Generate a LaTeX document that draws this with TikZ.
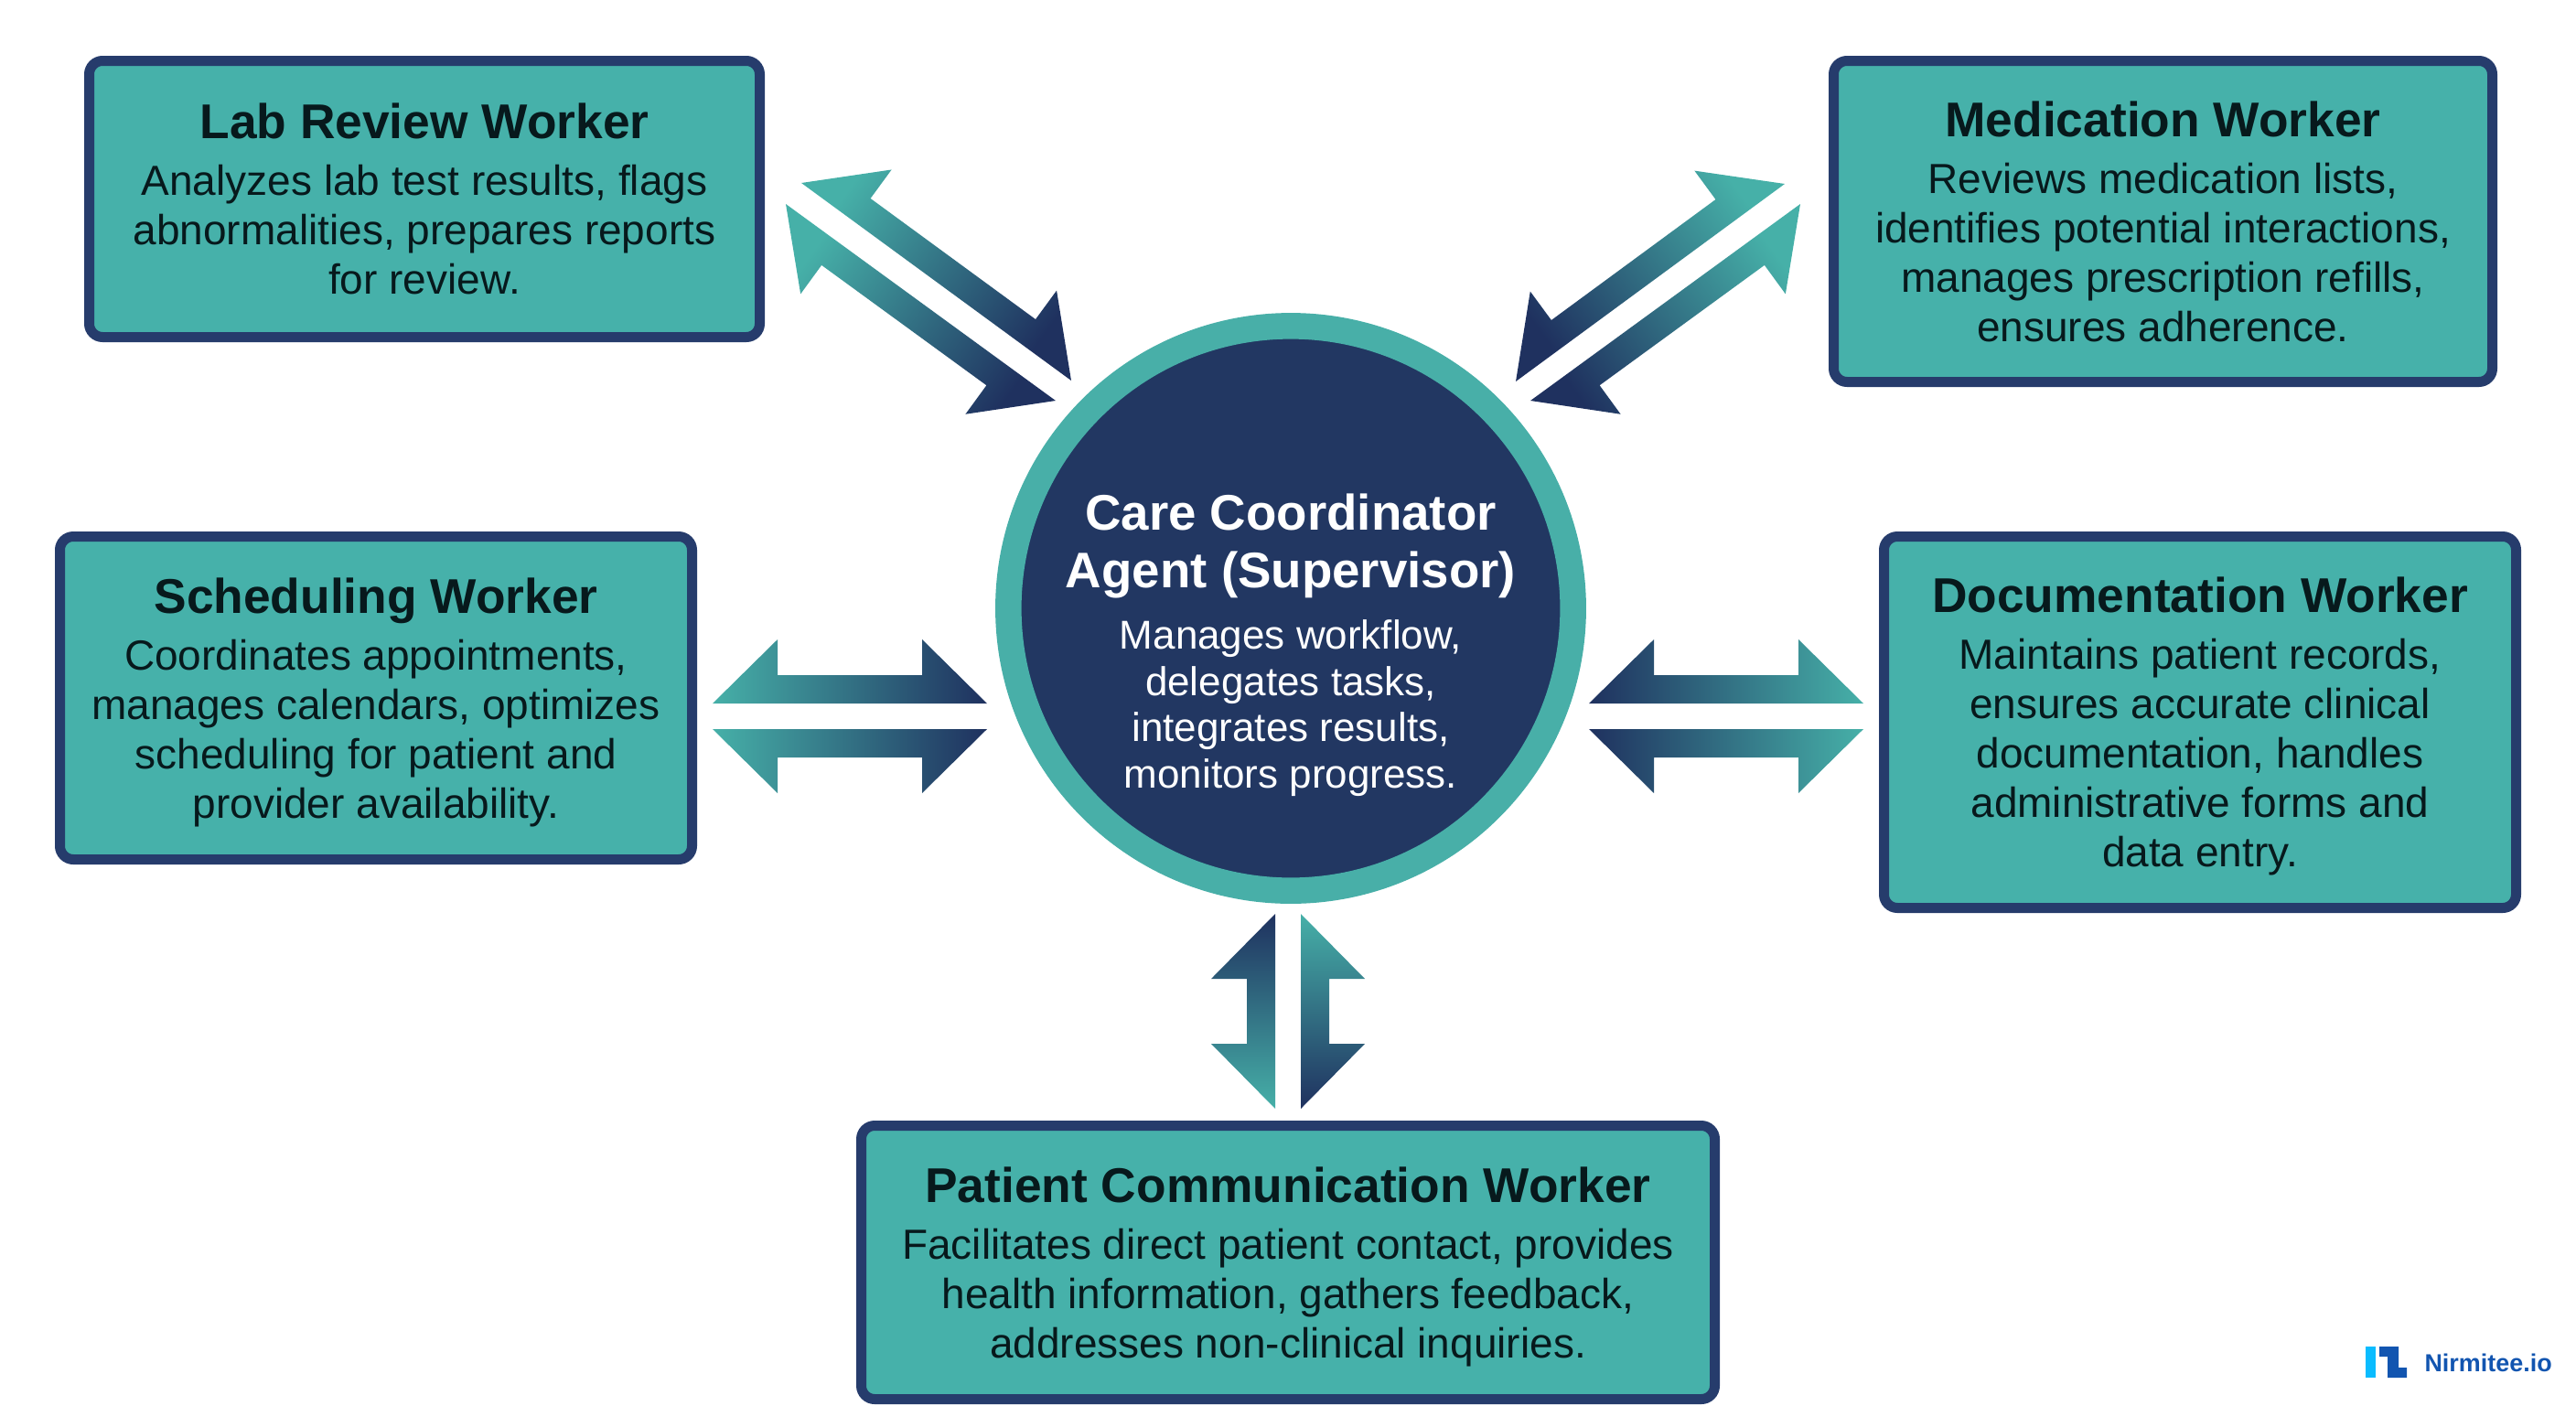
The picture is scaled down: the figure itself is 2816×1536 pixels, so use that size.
\documentclass[tikz,border=0pt]{standalone}
\usepackage{fontspec}
\setmainfont{Liberation Sans}
\usetikzlibrary{calc}

\definecolor{boxteal}{HTML}{46B1AA}
\definecolor{boxnavy}{HTML}{263C6C}
\definecolor{ringteal}{HTML}{48AFA8}
\definecolor{hubnavy}{HTML}{223762}
\definecolor{arrowteal}{HTML}{46B0A8}
\definecolor{arrownavy}{HTML}{1F315F}
\definecolor{inkdark}{HTML}{07191C}
\definecolor{logoblue}{HTML}{1255B0}
\definecolor{logosky}{HTML}{0ABCFF}

\tikzset{every picture/.style={line width=0.75pt}}
\tikzset{
  workerbox/.style={draw=boxnavy,fill=boxteal,line width=8.25pt,rounded corners=11pt,
    inner sep=0pt,align=center,text=inkdark,text depth=0pt,
    font=\fontsize{34.5}{40.5}\selectfont},
  hubdisc/.style={circle,draw=ringteal,fill=hubnavy,line width=21.4pt,inner sep=0pt,
    minimum size=463pt},
  hubtext/.style={inner sep=0pt,align=center,text=white,text depth=0pt,
    font=\fontsize{33}{37.9}\selectfont},
  logotext/.style={inner sep=0pt,anchor=west,text=logoblue,
    font=\fontsize{20.2}{24}\selectfont\bfseries}
}

\newcommand{\workertitle}[1]{{\fontsize{40}{40.5}\selectfont\bfseries #1}\\[6pt]}
\newcommand{\halfarrow}[3]{%
  \pgfmathanglebetweenpoints{\pgfpointanchor{#1}{center}}{\pgfpointanchor{#2}{center}}%
  \pgfmathsetmacro{\arrowtilt}{-\pgfmathresult-90}%
  \shade [top color=\arrowto,bottom color=\arrowfrom,shading angle=\arrowtilt]
    (#1) -- ($(#1)!53.25pt!(#2)!52.5pt!#3:(#2)$) -- ($(#1)!53.25pt!(#2)!23.25pt!#3:(#2)$)
    -- ($(#2)!53.25pt!(#1)!23.25pt!#3:(#2)$) -- ($(#2)!53.25pt!(#1)!52.5pt!#3:(#2)$)
    -- (#2) -- cycle ;}
\def\arrowfrom{arrowteal}
\def\arrowto{arrownavy}

\begin{document}
\begin{tikzpicture}[x=0.75pt,y=0.75pt,yscale=-1,xscale=1]
\useasboundingbox (0,0) rectangle (2816,1536);

%Shape: Rectangle [lab review]
\node [workerbox,minimum width=549.75pt,minimum height=226.5pt] (labworker) at (464,217.5) {\workertitle{Lab Review Worker}Analyzes lab test results, flags\\abnormalities, prepares reports\\for review.};
%Shape: Rectangle [medication]
\node [workerbox,minimum width=540pt,minimum height=263.25pt] (medworker) at (2364.5,242) {\workertitle{Medication Worker}Reviews medication lists,\\identifies potential interactions,\\manages prescription refills,\\ensures adherence.};
%Shape: Rectangle [scheduling]
\node [workerbox,minimum width=518.25pt,minimum height=264.75pt] (schedworker) at (411,763) {\workertitle{Scheduling Worker}Coordinates appointments,\\manages calendars, optimizes\\scheduling for patient and\\provider availability.};
%Shape: Rectangle [documentation]
\node [workerbox,minimum width=518.25pt,minimum height=304.5pt] (docworker) at (2405,789.5) {\workertitle{Documentation Worker}Maintains patient records,\\ensures accurate clinical\\documentation, handles\\administrative forms and\\data entry.};
%Shape: Rectangle [patient communication]
\node [workerbox,minimum width=699.75pt,minimum height=224.25pt] (patworker) at (1408,1380) {\workertitle{Patient Communication Worker}Facilitates direct patient contact, provides\\health information, gathers feedback,\\addresses non-clinical inquiries.};

%Shape: Circle [supervisor]
\node [hubdisc] (carehub) at (1411,665) {};
% Text Node
\node [hubtext] (caretext) at (1411,700.5) {{\fontsize{41}{37.9}\selectfont\bfseries Care Coordinator}\\[9.7pt]{\fontsize{41}{37.9}\selectfont\bfseries Agent (Supervisor)}\\[12.1pt]Manages workflow,\\delegates tasks,\\integrates results,\\monitors progress.};

%Arrow ends, teal end first
\coordinate (labupT) at (876,200);
\coordinate (labupN) at (1171,416);
\coordinate (lablowT) at (859,223);
\coordinate (lablowN) at (1154,438);
\coordinate (medupT) at (1951,201);
\coordinate (medupN) at (1657,417);
\coordinate (medlowT) at (1968,223);
\coordinate (medlowN) at (1673,438);
\coordinate (schedupT) at (779,769);
\coordinate (schedupN) at (1079,769);
\coordinate (schedlowT) at (779,797);
\coordinate (schedlowN) at (1079,797);
\coordinate (docupT) at (2037,769);
\coordinate (docupN) at (1737,769);
\coordinate (doclowT) at (2037,797);
\coordinate (doclowN) at (1737,797);
\coordinate (patleftT) at (1394,1212);
\coordinate (patleftN) at (1394,999);
\coordinate (patrightT) at (1422,999);
\coordinate (patrightN) at (1422,1212);

%Straight Lines [block arrows]
\halfarrow{labupT}{labupN}{-90}
\halfarrow{lablowT}{lablowN}{90}
\halfarrow{medupT}{medupN}{90}
\halfarrow{medlowT}{medlowN}{-90}
\halfarrow{schedupT}{schedupN}{-90}
\halfarrow{schedlowT}{schedlowN}{90}
\halfarrow{docupT}{docupN}{90}
\halfarrow{doclowT}{doclowN}{-90}
\halfarrow{patleftT}{patleftN}{-90}
\halfarrow{patrightT}{patrightN}{-90}

%Shape: Logo mark
\fill [logosky] (2586,1472) -- (2597,1472) -- (2597,1506) -- (2586,1506) -- cycle ;
\fill [logoblue] (2601,1472) -- (2622,1472) -- (2622,1495) -- (2631,1495) -- (2631,1506) -- (2610,1506) -- (2610,1483) -- (2601,1483) -- cycle ;
% Text Node
\node [logotext] (logoname) at (2650,1490) {Nirmitee.io};

\end{tikzpicture}
\end{document}
